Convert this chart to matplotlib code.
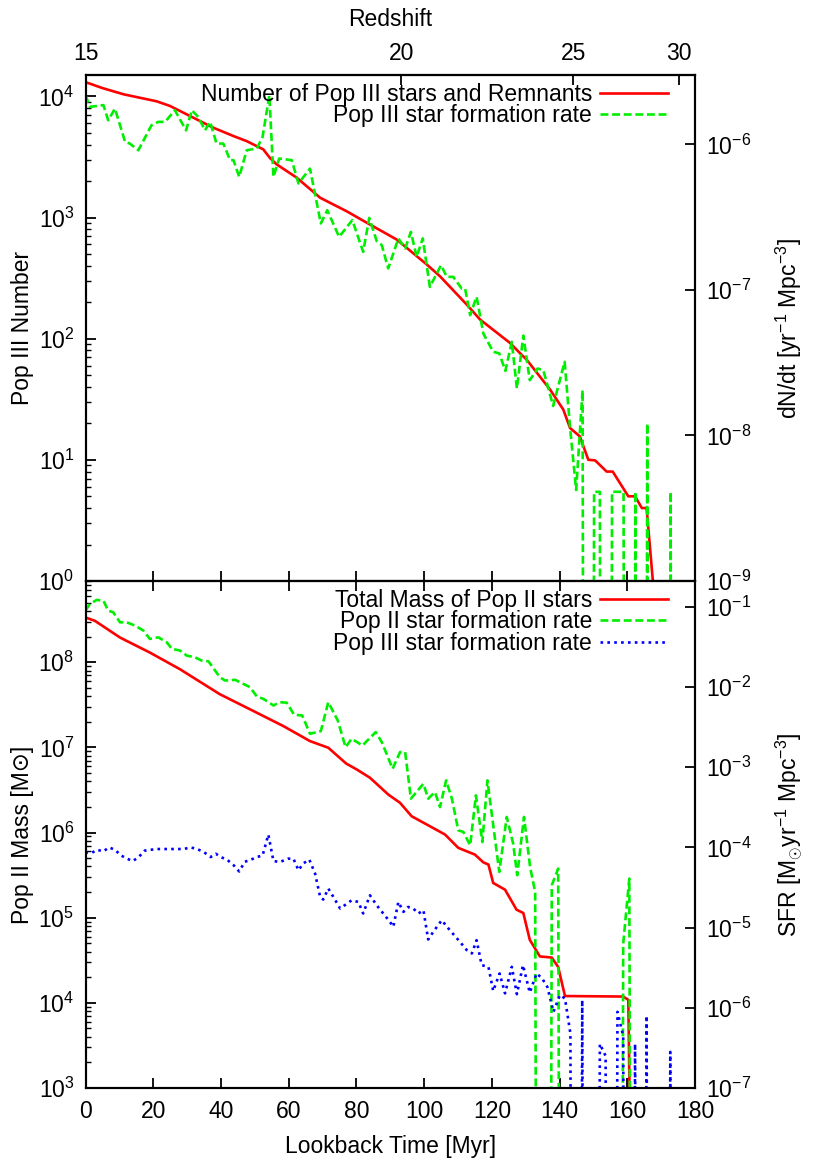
"""
Pop III / Pop II history vs lookback time: two stacked log panels,
each with its own right-hand axis, redshift on the top axis.
"""
import numpy as np
import matplotlib
matplotlib.use("Agg")
import matplotlib.pyplot as plt
from matplotlib.ticker import NullLocator, LogLocator

plt.rcParams['font.family'] = ['Liberation Sans', 'DejaVu Sans']
plt.rcParams['mathtext.fontset'] = 'custom'
plt.rcParams['mathtext.rm'] = 'Liberation Sans'
plt.rcParams['mathtext.it'] = 'Liberation Sans:italic'
plt.rcParams['mathtext.bf'] = 'Liberation Sans:bold'
plt.rcParams['font.size'] = 16.5

# ---- top panel: number of Pop III stars (+ remnants) ----
t_n3 = [0, 5, 11.2, 21, 25, 30.9, 37.8, 43.7, 47.6, 52.5, 54.5, 56.5, 62.4,
        69.3, 77.1, 84, 91.9, 100.8, 104.7, 112.6, 116.5, 125.4, 128.3,
        130.3, 137.2, 141.1, 143.1, 146, 148.5, 150.5, 153.9, 155.7, 160.3,
        162.3, 164.3, 165.7, 167.7]
n3 = [13100, 11700, 10400, 9100, 8320, 6870, 5500, 4700, 4270, 3650, 3090,
      2740, 2130, 1455, 1127, 875, 658, 409, 327, 191, 144, 92, 76, 67, 38,
      26, 18.3, 15.6, 10, 9.9, 8.0, 8.0, 5.0, 5.0, 4.0, 4.0, 0.9]

# Pop III formation rate dN/dt [yr^-1 Mpc^-3], log10; -30 = empty bin
t_dn3 = [0, 1.3, 5.3, 6.7, 8.7, 11.7, 13.1, 15.6, 19.5, 21.5, 23.5, 26.4,
         29.7, 31.4, 33.3, 35.3, 36.8, 38.7, 40.7, 42.7, 43.7, 45.4, 47.6,
         50.6, 52.3, 54.3, 55.5, 57.2, 60.9, 62.9, 66.3, 69.5, 71.4, 74.9,
         78.8, 82, 83.8, 86, 87.5, 89.4, 92.4, 94.4, 96.1, 97.8, 99.6, 101.7,
         105, 106.7, 108.6, 111.1, 112.1, 113.6, 115.5, 117.5, 120.4, 122.2,
         124, 125.9, 127.4, 129.3, 131.2, 133.5, 135.2, 138.1, 141.5, 143.1,
         144.9, 146.8, 148.5, 150.2, 151.9, 153.7, 155.5, 157.2, 158.9, 160.7,
         162.4, 164.1, 165.9, 167.6, 169.3, 171.1, 172.8, 174.5]
dn3_log = [-5.662, -5.742, -5.73, -5.834, -5.754, -5.983, -5.994, -6.04,
           -5.868, -5.845, -5.845, -5.765, -5.903, -5.765, -5.811, -5.903,
           -5.845, -5.994, -5.994, -6.108, -6.108, -6.223, -6.04, -6.028,
           -5.948, -5.662, -6.223, -6.097, -6.108, -6.268, -6.166, -6.543,
           -6.452, -6.635, -6.52, -6.738, -6.505, -6.664, -6.692, -6.852,
           -6.646, -6.715, -6.601, -6.773, -6.646, -6.979, -6.83, -6.91,
           -6.91, -6.99, -6.99, -7.173, -7.047, -7.30, -7.425, -7.436,
           -7.556, -7.356, -7.677, -7.314, -7.62, -7.54, -7.551, -7.797,
           -7.494, -7.945, -8.375, -7.688, -30, -8.387, -8.387, -30, -8.387,
           -8.387, -8.387, -30, -8.387, -30, -7.917, -30, -30, -30, -8.387,
           -30]

# ---- bottom panel: Pop II mass and star formation rates ----
t_m2 = [0, 2.8, 10.2, 19, 27.9, 39.7, 49.6, 58.4, 66.3, 71.7, 77, 80.1, 84,
        89.4, 92.9, 96.3, 100.8, 106.2, 110.1, 115, 117.5, 119, 120.4,
        123.9, 127.3, 129.3, 131.2, 134.2, 137.7, 139.6, 141.6, 158.8, 160.3,
        161.0]
m2_log = [8.526, 8.486, 8.29, 8.114, 7.918, 7.624, 7.427, 7.251, 7.074,
          6.996, 6.81, 6.741, 6.644, 6.447, 6.349, 6.192, 6.094, 5.976, 5.82,
          5.741, 5.65, 5.624, 5.408, 5.329, 5.094, 5.055, 4.741, 4.545, 4.532,
          4.42, 4.08, 4.074, 4.035, 2.0]

# Pop II SFR [Msun yr^-1 Mpc^-3], log10; -30 = empty bin
t_sfr2 = [0, 1.3, 3.3, 5.3, 6.7, 8.2, 10.2, 12.2, 14.6, 17.1, 19, 21.5, 24,
          25.5, 27.9, 29.9, 32.3, 34.3, 36.3, 39.7, 41.2, 44.2, 45.6, 48.6,
          50.6, 52.5, 55.5, 57.4, 59.4, 61.6, 64, 66.3, 69.5, 71.7, 74.5,
          76.8, 78.6, 81.8, 85.7, 87.5, 90.7, 92.9, 94.4, 96.1, 99.8, 101.2,
          103.2, 104.7, 106.5, 108.2, 110.1, 111.6, 113.6, 115.3, 117.2,
          118.7, 122.2, 124.4, 126.3, 127.5, 129.5, 131.3, 132.8, 134.5,
          136.2, 137.7, 139.6, 141.3, 157.1, 158.8, 160.6, 162.3]
sfr2_log = [-1.047, -0.964, -0.914, -0.923, -1.047, -1.068, -1.193, -1.193,
            -1.234, -1.296, -1.4, -1.38, -1.442, -1.524, -1.545, -1.608,
            -1.629, -1.67, -1.679, -1.878, -1.919, -1.91, -1.94, -2.002,
            -2.118, -2.147, -2.23, -2.189, -2.195, -2.345, -2.355, -2.583,
            -2.55, -2.189, -2.417, -2.75, -2.645, -2.729, -2.562, -2.687,
            -3.019, -2.811, -2.811, -3.392, -3.206, -3.392, -3.31, -3.497,
            -3.164, -3.392, -3.787, -3.807, -3.974, -3.351, -3.933, -3.164,
            -4.306, -3.62, -3.953, -4.347, -3.62, -4.244, -4.556, -30, -30,
            -4.472, -4.264, -30, -30, -5.198, -4.389, -30]

# Pop III SFR [Msun yr^-1 Mpc^-3], log10; -30 = empty bin
t_sfr3 = [0, 1.7, 3.5, 5.2, 7, 8.7, 10.5, 12.2, 14, 15.7, 17.5, 19.2, 21, 23,
          25, 27, 29, 31, 33, 35, 37, 38.5, 40, 42, 43.7, 45.4, 47, 49, 50.6,
          52.3, 54, 55.5, 57.4, 59.9, 61.4, 62.9, 64.3, 66.1, 67.8, 69.3,
          70.2, 71.7, 73.2, 75.2, 78.6, 80.6, 82, 84, 86, 89.9, 90.9, 92.4,
          93.9, 95.3, 96.8, 98.3, 99.8, 101.2, 102.7, 105.2, 107.6, 110.6,
          112.6, 114.1, 115.5, 117, 119, 120.4, 122.3, 123.9, 125.9, 127.4,
          129.2, 131.2, 133.2, 134.8, 136.4, 138.2, 140.1, 141.6, 143.2,
          144.9, 146.7, 148.4, 150.2, 151.9, 153.6, 155.4, 157.1, 158.8,
          160.5, 162.3, 164.0, 165.7, 167.5, 169.2, 170.9, 172.7, 174.4]
sfr3_log = [-4.06, -4.07, -4.03, -4.05, -4.0, -4.03, -4.1, -4.14, -4.17,
            -4.12, -4.04, -4.03, -4.02, -4.02, -4.02, -4.02, -4.02, -4.0,
            -4.02, -4.06, -4.12, -4.08, -4.12, -4.16, -4.22, -4.3, -4.18,
            -4.15, -4.12, -4.1, -3.84, -4.17, -4.182, -4.14, -4.14, -4.285,
            -4.2, -4.152, -4.326, -4.617, -4.65, -4.513, -4.617, -4.762,
            -4.659, -4.68, -4.824, -4.597, -4.721, -4.928, -4.99, -4.68,
            -4.804, -4.742, -4.762, -4.824, -4.783, -5.148, -5.053, -4.908,
            -5.032, -5.178, -5.281, -5.322, -5.157, -5.468, -5.489, -5.79,
            -5.572, -5.82, -5.489, -5.83, -5.468, -5.81, -5.572, -5.63, -5.74,
            -6.05, -5.842, -5.883, -6.32, -30, -5.904, -30, -30, -6.45, -6.6,
            -30, -6.05, -6.35, -30, -6.45, -30, -6.1, -30, -30, -30, -6.55,
            -30]

Z_TICKS = [15, 20, 25, 30]
T_Z15 = 278.6   # Myr: cosmic age at z=15 (matter dominated, t ~ (1+z)^-1.5)

RED, GREEN, BLUE = '#ff0000', '#00ee00', '#0000ff'


def lookback_to_z(t):
    t = np.clip(np.asarray(t, dtype=float), -1e3, T_Z15 - 1e-3)
    return 16.0 * (T_Z15 / (T_Z15 - t)) ** (2.0 / 3.0) - 1.0


def z_to_lookback(z):
    z = np.clip(np.asarray(z, dtype=float), -0.99, None)
    return T_Z15 * (1.0 - (16.0 / (1.0 + z)) ** 1.5)


def unlog(v):
    return 10.0 ** np.asarray(v, dtype=float)


def ticks(ax, right_axis=False):
    if right_axis:
        ax.yaxis.set_minor_locator(NullLocator())
        ax.tick_params(axis='y', which='major', direction='in', length=7,
                       width=1.3, pad=8)
    else:
        ax.yaxis.set_minor_locator(LogLocator(subs=np.arange(2, 10)))
        ax.tick_params(axis='y', which='major', direction='in', length=7,
                       width=1.3, pad=8)
        ax.tick_params(axis='y', which='minor', direction='in', length=3.5,
                       width=1.0)


fig = plt.figure(figsize=(8.3, 11.63), dpi=100)
L, W = 85.5 / 830, 609.5 / 830
ax1 = fig.add_axes([L, 1 - 581 / 1163, W, 506 / 1163])
ax3 = fig.add_axes([L, 1 - 1088 / 1163, W, 507 / 1163])
ax2 = ax1.twinx()
ax4 = ax3.twinx()

l1, = ax1.plot(t_n3, n3, color=RED, lw=1.9,
               label='Number of Pop III stars and Remnants')
l2, = ax2.plot(t_dn3, unlog(dn3_log), color=GREEN, lw=1.9, dashes=(3, 1.4),
               label='Pop III star formation rate')
l3, = ax3.plot(t_m2, unlog(m2_log), color=RED, lw=1.9,
               label='Total Mass of Pop II stars')
l4, = ax4.plot(t_sfr2, unlog(sfr2_log), color=GREEN, lw=1.9, dashes=(3, 1.4),
               label='Pop II star formation rate')
l5, = ax4.plot(t_sfr3, unlog(sfr3_log), color=BLUE, lw=1.9, dashes=(1, 1.6),
               label='Pop III star formation rate')

for ax in (ax1, ax2, ax3, ax4):
    ax.set_xlim(0, 180)
    ax.set_yscale('log')
    for s in ax.spines.values():
        s.set_linewidth(1.5)
ax1.set_ylim(1, 1.5e4)
ax2.set_ylim(1e-9, 3e-6)
ax3.set_ylim(1e3, 9e8)
ax4.set_ylim(1e-7, 0.21)

for ax in (ax1, ax3):
    ax.set_xticks(np.arange(0, 181, 20))
    ax.xaxis.set_minor_locator(NullLocator())
    ticks(ax)
for ax in (ax2, ax4):
    ticks(ax, right_axis=True)

ax1.tick_params(axis='x', direction='in', length=7, width=1.3,
                top=False, labelbottom=False)
ax3.tick_params(axis='x', direction='in', length=7, width=1.3, top=True,
                pad=9)

sec = ax1.secondary_xaxis('top', functions=(lookback_to_z, z_to_lookback))
sec.set_xticks(Z_TICKS)
sec.xaxis.set_minor_locator(NullLocator())
sec.tick_params(direction='in', length=7, width=1.3, pad=7)
sec.spines['top'].set_linewidth(1.5)
sec.set_xlabel('Redshift', labelpad=12)

ax1.set_ylabel('Pop III Number', labelpad=3)
ax2.set_ylabel(r'dN/dt [yr$^{-1}$ Mpc$^{-3}$]', labelpad=16)
ax3.set_ylabel('Pop II Mass [M⊙]', labelpad=3)
ax4.set_ylabel(r'SFR [M$_{\odot}$yr$^{-1}$ Mpc$^{-3}$]', labelpad=16)
ax3.set_xlabel('Lookback Time [Myr]', labelpad=8)

leg_kw = dict(loc='upper right', bbox_to_anchor=(0.956, 0.985), frameon=False,
              markerfirst=False, handlelength=2.97, handletextpad=0.35,
              labelspacing=-0.06, borderpad=0, borderaxespad=0)
ax2.legend(handles=[l1, l2], **leg_kw)
ax4.legend(handles=[l3, l4, l5], **leg_kw)

fig.savefig('out.png', dpi=100, facecolor='white')
